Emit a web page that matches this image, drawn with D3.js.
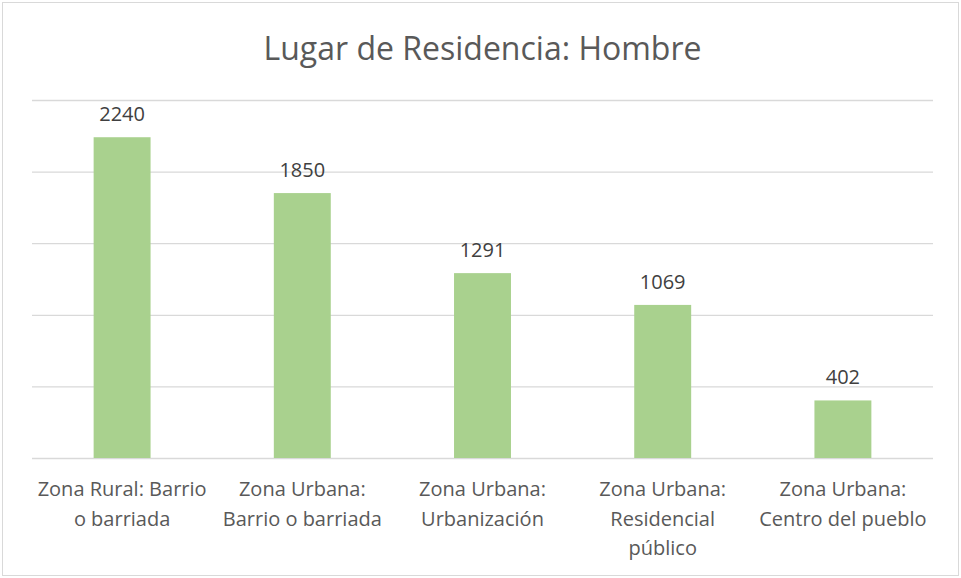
<!DOCTYPE html>
<html>
<head>
<meta charset="utf-8">
<script src="https://cdn.jsdelivr.net/npm/d3@7"></script>
<style>
  body { margin: 0; background: #fff; }
  text { font-family: "Open Sans", "Liberation Sans", sans-serif; }
</style>
</head>
<body>
<div id="chart"></div>
<script>
  const categories = [
      ["Zona Rural: Barrio", "o barriada"],
      ["Zona Urbana:", "Barrio o barriada"],
      ["Zona Urbana:", "Urbanización"],
      ["Zona Urbana:", "Residencial", "público"],
      ["Zona Urbana:", "Centro del pueblo"]
  ];
  const values = [2240, 1850, 1291, 1069, 402];
  const yTicks = [0, 500, 1000, 1500, 2000, 2500];
  const title = "Lugar de Residencia: Hombre";

  const W = 961, H = 578;
  const margin = { top: 100, right: 28, bottom: 120, left: 32 };
  const width = W - margin.left - margin.right;
  const height = H - margin.top - margin.bottom;

  const svg = d3.select("#chart")
      .append("svg")
      .attr("width", W)
      .attr("height", H);

  // outer border
  svg.append("rect")
      .attr("x", 2.5).attr("y", 2.5)
      .attr("width", W - 5).attr("height", H - 5)
      .attr("fill", "#fff")
      .attr("stroke", "#d9d9d9");

  svg.append("text")
      .attr("x", W / 2 + 2)
      .attr("y", 60)
      .attr("text-anchor", "middle")
      .attr("fill", "#595959")
      .style("font-size", "32px")
      .text(title);

  const g = svg.append("g")
      .attr("transform", `translate(${margin.left},${margin.top})`);

  const x = d3.scaleBand()
      .domain(d3.range(values.length))
      .range([0, width])
      .paddingInner(0.684)
      .paddingOuter(0.342);

  const y = d3.scaleLinear()
      .domain([0, 2500])
      .range([height, 0]);

  // gridlines
  g.append("g")
      .attr("class", "grid")
      .call(d3.axisLeft(y).tickValues(yTicks).tickSize(-width).tickFormat(""))
      .call(s => s.select(".domain").remove())
      .call(s => s.selectAll("line").attr("stroke", "#d9d9d9").attr("stroke-width", 1.3));

  g.selectAll(".bar")
      .data(values)
      .join("rect")
      .attr("class", "bar")
      .attr("x", (d, i) => x(i))
      .attr("y", d => y(d))
      .attr("width", x.bandwidth())
      .attr("height", d => height - y(d))
      .attr("fill", "#a9d18e");

  g.selectAll(".val")
      .data(values)
      .join("text")
      .attr("class", "val")
      .attr("x", (d, i) => x(i) + x.bandwidth() / 2)
      .attr("y", d => y(d) - 16)
      .attr("text-anchor", "middle")
      .attr("fill", "#404040")
      .style("font-size", "20px")
      .text(d => d);

  // category labels
  const labels = g.selectAll(".cat")
      .data(categories)
      .join("text")
      .attr("class", "cat")
      .attr("text-anchor", "middle")
      .attr("fill", "#595959")
      .style("font-size", "20px")
      .attr("transform", (d, i) => `translate(${x(i) + x.bandwidth() / 2},${height + 38})`);

  labels.selectAll("tspan")
      .data(d => d)
      .join("tspan")
      .attr("x", 0)
      .attr("y", (d, j) => j * 29.5)
      .text(d => d);
</script>
</body>
</html>
